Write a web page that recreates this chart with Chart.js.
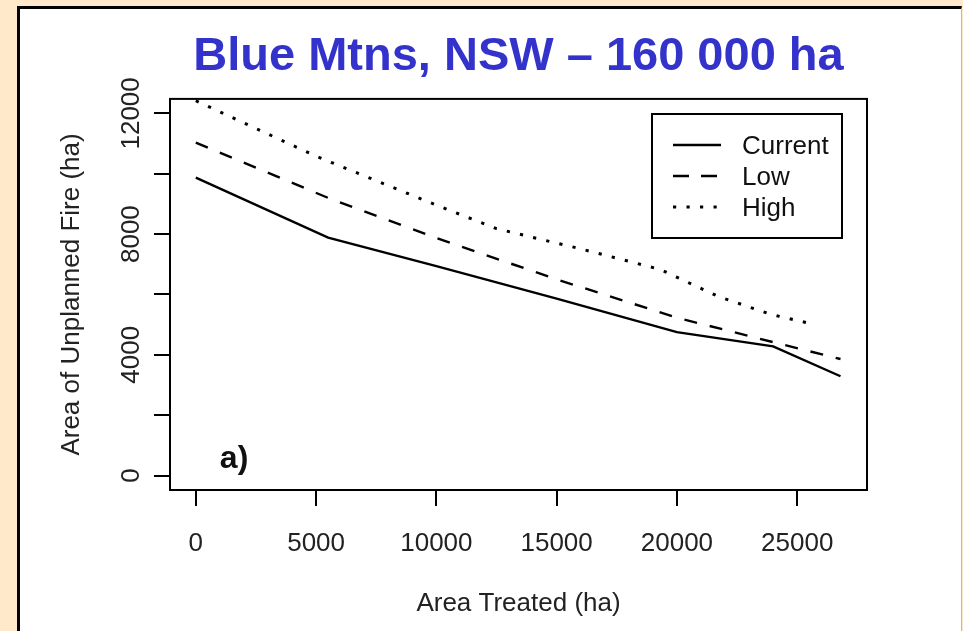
<!DOCTYPE html>
<html><head><meta charset="utf-8">
<script src="https://cdn.jsdelivr.net/npm/chart.js@4/dist/chart.umd.min.js"></script>
<style>
html,body{margin:0;padding:0;width:963px;height:631px;overflow:hidden;background:#FFE9CA;}
#panel{position:absolute;left:17px;top:6px;width:941px;height:640px;background:#fff;border-left:3px solid #000;border-top:3px solid #000;border-right:1px solid #bbb;}
#c{position:absolute;left:0;top:0;}
</style></head><body>
<div id="panel"></div>
<canvas id="c" width="963" height="631"></canvas>
<script>
const titleText = 'Blue Mtns, NSW – 160 000 ha';
const xAxisTitle = 'Area Treated (ha)';
const yAxisTitle = 'Area of Unplanned Fire (ha)';
const seriesNames = ['Current', 'Low', 'High'];
const currentX = [0, 5500, 10000, 15000, 20000, 24000, 26800];
const currentY = [9870, 7880, 6940, 5860, 4750, 4280, 3290];
const lowX = [0, 5500, 10000, 15000, 20000, 24000, 26800];
const lowY = [11030, 9200, 7870, 6500, 5230, 4420, 3860];
const highX = [0, 5000, 10000, 12500, 16000, 19300, 21700, 23900, 25700];
const highY = [12420, 10580, 8960, 8180, 7510, 6830, 5940, 5340, 5010];
const xTicks = [0, 5000, 10000, 15000, 20000, 25000];
const yTicks = [0, 2000, 4000, 6000, 8000, 10000, 12000];
const yTickLabels = ['0', '', '4000', '', '8000', '', '12000'];
const panelLabel = 'a)';

const FAM = '"Liberation Sans", Arial, Helvetica, sans-serif';
const toPts = (xs, ys) => xs.map((x, i) => ({x: x, y: ys[i]}));

const rFrame = {
  id: 'rFrame',
  afterDraw(chart, args, opts) {
    const {ctx, chartArea: a, scales} = chart;
    ctx.save();
    ctx.strokeStyle = '#000';
    ctx.lineWidth = 2;
    ctx.setLineDash([]);
    ctx.strokeRect(a.left, a.top, a.right - a.left, a.bottom - a.top);
    const L = opts.legend;
    ctx.strokeRect(L.left, L.top, L.width, L.height);
    ctx.font = '26px ' + FAM;
    ctx.fillStyle = '#111';
    ctx.textBaseline = 'middle';
    ctx.textAlign = 'left';
    chart.data.datasets.forEach((ds, i) => {
      const y = L.firstRow + i * L.rowGap;
      ctx.setLineDash(L.dashes[i]);
      ctx.lineWidth = ds.borderWidth;
      ctx.beginPath();
      ctx.moveTo(L.lineX0, y);
      ctx.lineTo(L.lineX1, y);
      ctx.stroke();
      ctx.setLineDash([]);
      ctx.fillText(ds.label, L.textX, y + 2);
    });
    const T = opts.tag;
    ctx.font = 'bold 32px ' + FAM;
    ctx.textBaseline = 'alphabetic';
    ctx.fillStyle = '#111';
    ctx.fillText(T.text, scales.x.getPixelForValue(T.x), scales.y.getPixelForValue(T.y));
    ctx.restore();
  }
};

const tickGrid = {display: true, drawOnChartArea: false, drawTicks: true, tickLength: 16, color: '#000', lineWidth: 2};

new Chart(document.getElementById('c'), {
  type: 'scatter',
  data: {
    datasets: [
      {label: seriesNames[0], data: toPts(currentX, currentY), showLine: true, borderColor: '#000', borderWidth: 2.4, borderDash: [], pointRadius: 0, tension: 0},
      {label: seriesNames[1], data: toPts(lowX, lowY), showLine: true, borderColor: '#000', borderWidth: 2.4, borderDash: [13, 13], pointRadius: 0, tension: 0},
      {label: seriesNames[2], data: toPts(highX, highY), showLine: true, borderColor: '#000', borderWidth: 3, borderDash: [3.2, 10.3], pointRadius: 0, tension: 0}
    ]
  },
  options: {
    responsive: false,
    animation: false,
    devicePixelRatio: 1,
    layout: {padding: {left: 0, right: 96, top: 0, bottom: 0}},
    plugins: {
      legend: {display: false},
      tooltip: {enabled: false},
      title: {
        display: true, text: titleText, fullSize: false, color: '#3333CC',
        font: {family: FAM, size: 47, weight: 'bold'},
        padding: {top: 28.5, bottom: 14}
      },
      rFrame: {
        legend: {left: 652, top: 114, width: 190, height: 124, firstRow: 145, rowGap: 31, lineX0: 673, lineX1: 721, textX: 742,
                 dashes: [[], [16, 12], [3.2, 10.3]]},
        tag: {text: panelLabel, x: 1000, y: 265}
      }
    },
    scales: {
      x: {
        type: 'linear', min: -1073, max: 27902,
        afterBuildTicks: s => { s.ticks = xTicks.map(v => ({value: v})); },
        afterFit: s => { s.height = 141; },
        grid: tickGrid,
        border: {display: false},
        ticks: {color: '#222', font: {family: FAM, size: 26}, padding: 22, minRotation: 0, maxRotation: 0, autoSkip: false,
                callback: (v, i) => String(xTicks[i])},
        title: {display: true, text: xAxisTitle, color: '#222', font: {family: FAM, size: 26}, padding: {top: 0, bottom: 11.5}}
      },
      y: {
        type: 'linear', min: -480, max: 12480,
        afterBuildTicks: s => { s.ticks = yTicks.map(v => ({value: v})); },
        afterFit: s => { s.width = 170; },
        grid: tickGrid,
        border: {display: false},
        ticks: {color: '#222', font: {family: FAM, size: 26}, padding: -13.8, minRotation: 90, maxRotation: 90, crossAlign: 'center', autoSkip: false,
                callback: (v, i) => yTickLabels[i]},
        title: {display: true, text: yAxisTitle, color: '#222', font: {family: FAM, size: 26}, padding: {top: 56, bottom: 0}}
      }
    }
  },
  plugins: [rFrame]
});
</script>
</body></html>
